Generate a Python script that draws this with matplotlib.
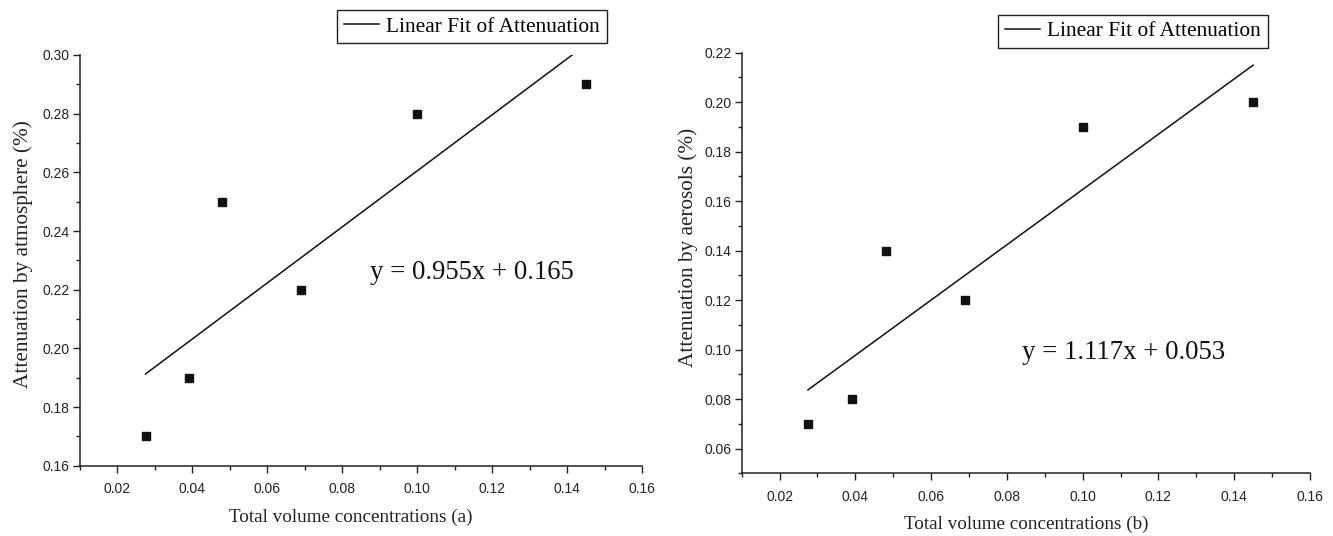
import matplotlib
matplotlib.use("Agg")
import matplotlib.pyplot as plt
import numpy as np

# Data
conc = [0.0275, 0.039, 0.048, 0.069, 0.100, 0.145]
atten_atmos = [0.17, 0.19, 0.25, 0.22, 0.28, 0.29]
atten_aero = [0.07, 0.08, 0.14, 0.12, 0.19, 0.20]
fit_a = (0.955, 0.165)
fit_b = (1.117, 0.053)
eq_a = "y = 0.955x + 0.165"
eq_b = "y = 1.117x + 0.053"
xlabel_a = "Total volume concentrations (a)"
xlabel_b = "Total volume concentrations (b)"
ylabel_a = "Attenuation by atmosphere (%)"
ylabel_b = "Attenuation by aerosols (%)"
legend_label = "Linear Fit of Attenuation"

SERIF = "Liberation Serif"
SANS = "Liberation Sans"

fig = plt.figure(figsize=(13.33, 5.36), dpi=100)
ax1 = fig.add_axes([0.0600, 0.1312, 0.4216, 0.7662])
ax2 = fig.add_axes([0.5564, 0.1170, 0.4263, 0.7847])


def style(ax, ylim, yticks, yminor):
    for s in ("top", "right"):
        ax.spines[s].set_visible(False)
    for s in ("left", "bottom"):
        ax.spines[s].set_linewidth(1.1)
        ax.spines[s].set_color("#222222")
    ax.set_xlim(0.01, 0.16)
    ax.set_ylim(*ylim)
    xt = np.arange(0.02, 0.161, 0.02)
    ax.set_xticks(xt)
    ax.set_xticks(np.arange(0.01, 0.161, 0.01), minor=True)
    ax.set_yticks(yticks)
    ax.set_yticks(yminor, minor=True)
    ax.set_xticklabels([f"{v:.2f}" for v in xt])
    ax.set_yticklabels([f"{v:.2f}" for v in yticks])
    ax.tick_params(which="major", direction="out", length=5, width=1.0,
                   labelsize=10, color="#222222")
    ax.tick_params(axis="x", which="major", pad=7)
    ax.tick_params(axis="y", which="major", pad=2.5)
    ax.tick_params(which="minor", direction="out", length=3, width=1.0,
                   color="#222222")
    for lab in ax.get_xticklabels() + ax.get_yticklabels():
        lab.set_fontfamily(SANS)
        lab.set_color("#222222")


def panel(ax, y, fit, eq, eq_pos, xlabel, ylabel, ylim, yticks, yminor,
          leg_anchor, xlab_xy, ylab_xy):
    style(ax, ylim, yticks, yminor)
    ax.plot(conc, y, linestyle="none", marker="s", markersize=6.3,
            color="#111111")
    xf = np.array([conc[0], conc[-1]])
    line, = ax.plot(xf, fit[0] * xf + fit[1], color="#111111", lw=1.1)
    ax.text(eq_pos[0], eq_pos[1], eq, fontsize=19.3, family=SERIF,
            color="#111111", va="center", ha="left")
    ax.set_xlabel(xlabel, fontsize=13.8, family=SERIF, color="#222222")
    ax.xaxis.set_label_coords(*xlab_xy)
    ax.set_ylabel(ylabel, fontsize=15.3, family=SERIF, color="#222222")
    ax.yaxis.set_label_coords(*ylab_xy)
    leg = ax.legend([line], [legend_label], loc="lower right",
                    bbox_to_anchor=leg_anchor, bbox_transform=fig.transFigure,
                    borderaxespad=0, fancybox=False, framealpha=1,
                    edgecolor="#222222", handlelength=1.65, handletextpad=0.33,
                    borderpad=0.32,
                    prop={"family": SERIF, "size": 15.4})
    leg.get_frame().set_linewidth(1.0)


panel(ax1, atten_atmos, fit_a, eq_a, (0.0874, 0.2257), xlabel_a, ylabel_a,
      (0.16, 0.30), np.arange(0.16, 0.301, 0.02), np.arange(0.16, 0.301, 0.01),
      (0.4554, 0.919), (0.481, -0.104), (-0.084, 0.515))
panel(ax2, atten_aero, fit_b, eq_b, (0.084, 0.099), xlabel_b, ylabel_b,
      (0.05, 0.22), np.arange(0.06, 0.221, 0.02), np.arange(0.05, 0.221, 0.01),
      (0.951, 0.910), (0.5, -0.1), (-0.077, 0.536))

fig.savefig("out.png", dpi=100)
